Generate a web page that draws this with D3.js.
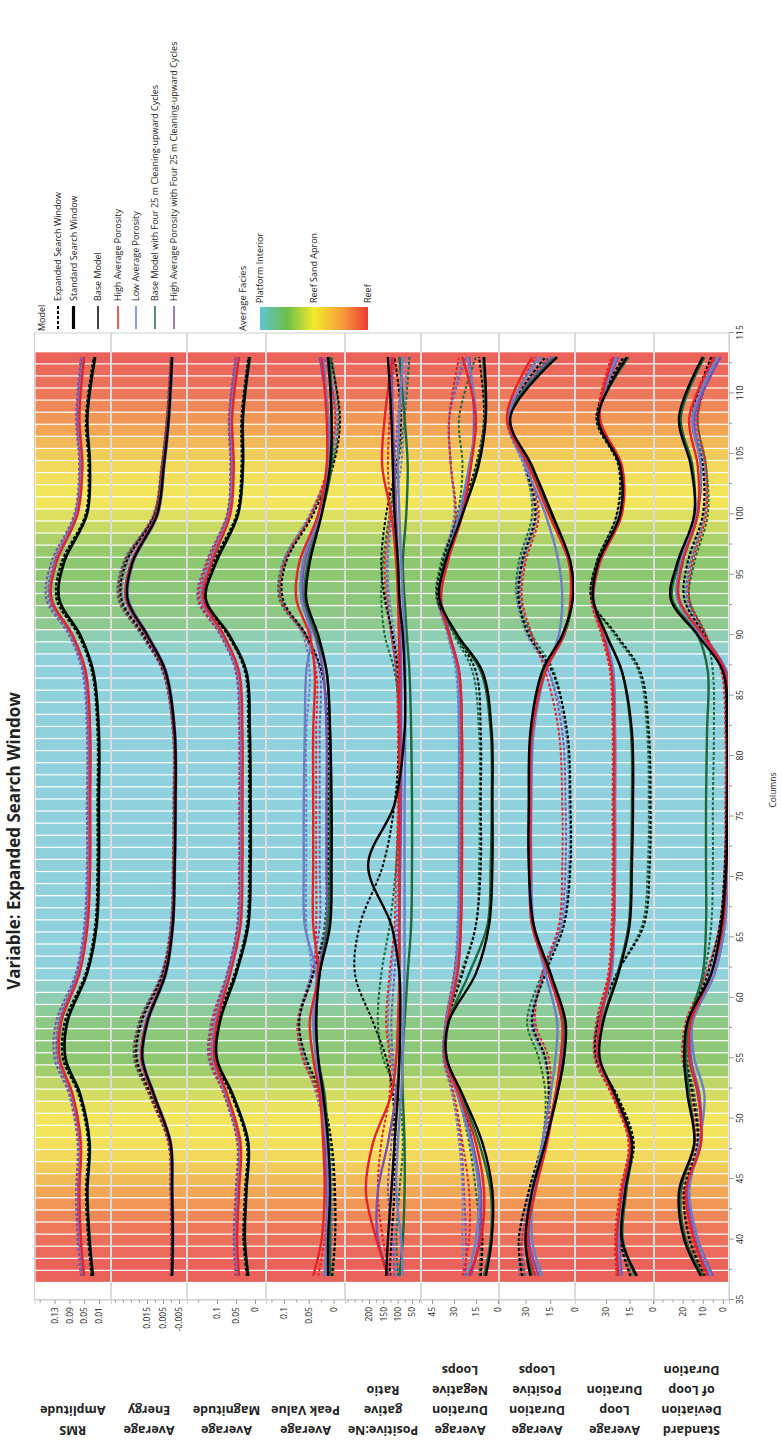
<!DOCTYPE html>
<html>
<head>
<meta charset="utf-8">
<script src="https://cdn.jsdelivr.net/npm/d3@7"></script>
<style>
  body { margin: 0; background: #fff; }
  text { font-family: "Open Sans", "Noto Sans", "DejaVu Sans", sans-serif; fill: #222; }
</style>
</head>
<body>
<svg id="chart" width="782" height="1441"></svg>
<script>
// ---- data ----
var cols = [37, 40, 44, 48, 52, 55, 58, 62, 66, 71, 76, 82, 87, 90, 93, 96, 100, 104, 108, 113];

// average facies per column 37..113 (1 = Platform Interior, 2 = Reef Sand Apron, 3 = Reef)
var faciesCols = d3.range(37, 114);
var facies = [2.95, 2.95, 2.9, 2.85, 2.8, 2.7, 2.6, 2.5,
  2.35, 2.2, 2.1, 2.05, 2.0, 2.0, 1.95, 1.85,
  1.75, 1.6, 1.5, 1.45, 1.45, 1.4, 1.3, 1.2, 1.1,
  1.0, 1.0, 1.0, 1.0, 1.0, 1.0, 1.0, 1.0, 1.0, 1.0, 1.0, 1.0, 1.0, 1.0,
  1.0, 1.0, 1.0, 1.0, 1.0, 1.0, 1.0, 1.0, 1.0, 1.0, 1.0, 1.0, 1.0,
  1.1, 1.2, 1.35, 1.4, 1.45, 1.45, 1.5, 1.5, 1.55, 1.65, 1.8, 1.9,
  2.0, 2.0, 2.05, 2.1, 2.2, 2.35, 2.5, 2.6, 2.7, 2.8, 2.85, 2.9, 2.95];

var models = ["Base Model", "High Average Porosity", "Low Average Porosity",
  "Base Model with Four 25 m Cleaning-upward Cycles",
  "High Average Porosity with Four 25 m Cleaning-upward Cycles"];
var windows = ["Expanded Search Window", "Standard Search Window"];

var panelNames = [["RMS", "Amplitude"], ["Average", "Energy"], ["Average", "Magnitude"],
  ["Average", "Peak Value"], ["Positive:Ne", "gative", "Ratio"],
  ["Average", "Duration", "Negative", "Loops"], ["Average", "Duration", "Positive", "Loops"],
  ["Average", "Loop", "Duration"], ["Standard", "Deviation", "of Loop", "Duration"]];

// each panel: [base std, base exp, high std, high exp, low std, low exp, baseCyc std, baseCyc exp, highCyc std, highCyc exp]
var rmsAmplitude = [
  [0.027,0.036,0.042,0.036,0.061,0.101,0.096,0.043,0.017,0.011,0.011,0.011,0.026,0.061,0.118,0.105,0.043,0.035,0.042,0.021],
  [0.030,0.039,0.045,0.039,0.064,0.107,0.102,0.046,0.020,0.014,0.014,0.014,0.029,0.065,0.124,0.111,0.046,0.038,0.045,0.024],
  [0.050,0.059,0.063,0.059,0.081,0.116,0.112,0.063,0.041,0.034,0.034,0.034,0.046,0.081,0.138,0.125,0.068,0.055,0.063,0.050],
  [0.055,0.064,0.068,0.064,0.086,0.121,0.117,0.068,0.046,0.039,0.039,0.039,0.051,0.086,0.143,0.130,0.073,0.060,0.068,0.055],
  [0.052,0.061,0.065,0.061,0.083,0.118,0.114,0.065,0.043,0.036,0.036,0.036,0.048,0.083,0.140,0.127,0.070,0.057,0.065,0.052],
  [0.056,0.065,0.069,0.065,0.088,0.124,0.120,0.070,0.047,0.040,0.040,0.040,0.052,0.088,0.146,0.133,0.074,0.061,0.069,0.056],
  [0.026,0.035,0.041,0.035,0.060,0.100,0.095,0.042,0.016,0.010,0.010,0.010,0.025,0.060,0.117,0.104,0.042,0.034,0.041,0.020],
  [0.031,0.040,0.046,0.040,0.066,0.108,0.103,0.047,0.021,0.015,0.015,0.015,0.030,0.066,0.125,0.112,0.047,0.039,0.046,0.025],
  [0.053,0.062,0.066,0.062,0.084,0.119,0.115,0.066,0.044,0.037,0.037,0.037,0.049,0.084,0.141,0.128,0.071,0.058,0.066,0.053],
  [0.059,0.068,0.072,0.068,0.091,0.130,0.126,0.073,0.050,0.043,0.043,0.043,0.055,0.091,0.152,0.139,0.077,0.064,0.072,0.059]
];
var avgEnergy = [
  [-0.0007,-0.0011,-0.0007,0.0003,0.0107,0.0179,0.0148,0.0034,-0.0011,-0.0023,-0.0028,-0.0023,0.0034,0.0148,0.0272,0.0241,0.0086,0.0045,0.0014,-0.0007],
  [-0.0003,-0.0006,-0.0002,0.0010,0.0125,0.0215,0.0185,0.0050,-0.0005,-0.0018,-0.0022,-0.0018,0.0045,0.0170,0.0310,0.0280,0.0100,0.0052,0.0020,-0.0003],
  [-0.0005,-0.0009,-0.0004,0.0006,0.0112,0.0185,0.0152,0.0038,-0.0008,-0.0020,-0.0025,-0.0020,0.0037,0.0152,0.0278,0.0246,0.0090,0.0048,0.0016,-0.0005],
  [0.0000,-0.0004,0.0001,0.0013,0.0130,0.0220,0.0190,0.0054,-0.0002,-0.0015,-0.0019,-0.0015,0.0048,0.0175,0.0315,0.0285,0.0104,0.0056,0.0023,0.0000],
  [-0.0010,-0.0014,-0.0010,0.0000,0.0103,0.0175,0.0144,0.0030,-0.0014,-0.0026,-0.0031,-0.0026,0.0030,0.0143,0.0266,0.0236,0.0082,0.0041,0.0011,-0.0010],
  [-0.0002,-0.0006,-0.0002,0.0009,0.0120,0.0205,0.0175,0.0045,-0.0007,-0.0019,-0.0024,-0.0019,0.0042,0.0165,0.0300,0.0270,0.0097,0.0050,0.0018,-0.0002],
  [-0.0008,-0.0012,-0.0008,0.0002,0.0105,0.0177,0.0146,0.0032,-0.0012,-0.0024,-0.0029,-0.0024,0.0032,0.0146,0.0270,0.0239,0.0084,0.0043,0.0012,-0.0008],
  [0.0001,-0.0003,0.0002,0.0015,0.0135,0.0228,0.0195,0.0056,0.0000,-0.0013,-0.0017,-0.0013,0.0050,0.0180,0.0322,0.0292,0.0106,0.0058,0.0025,0.0001],
  [-0.0004,-0.0008,-0.0003,0.0008,0.0114,0.0188,0.0156,0.0040,-0.0006,-0.0018,-0.0023,-0.0018,0.0040,0.0156,0.0282,0.0250,0.0092,0.0050,0.0018,-0.0004],
  [0.0003,-0.0001,0.0004,0.0017,0.0138,0.0232,0.0200,0.0060,0.0002,-0.0011,-0.0015,-0.0011,0.0053,0.0185,0.0330,0.0298,0.0110,0.0060,0.0027,0.0003]
];
var avgMagnitude = [
  [0.018,0.027,0.023,0.018,0.059,0.101,0.093,0.050,0.018,0.012,0.012,0.014,0.023,0.068,0.130,0.103,0.045,0.032,0.032,0.014],
  [0.021,0.030,0.026,0.021,0.062,0.107,0.099,0.053,0.021,0.015,0.015,0.017,0.026,0.071,0.136,0.109,0.048,0.035,0.035,0.017],
  [0.042,0.047,0.042,0.038,0.073,0.107,0.100,0.065,0.038,0.033,0.033,0.033,0.042,0.082,0.136,0.114,0.065,0.056,0.060,0.042],
  [0.049,0.054,0.049,0.045,0.080,0.118,0.111,0.072,0.045,0.040,0.040,0.040,0.049,0.089,0.147,0.125,0.072,0.063,0.067,0.049],
  [0.045,0.050,0.045,0.041,0.076,0.110,0.103,0.068,0.041,0.036,0.036,0.036,0.045,0.085,0.139,0.117,0.068,0.059,0.063,0.045],
  [0.048,0.053,0.048,0.044,0.079,0.115,0.108,0.071,0.044,0.039,0.039,0.039,0.048,0.088,0.145,0.122,0.071,0.062,0.066,0.048],
  [0.017,0.026,0.022,0.017,0.058,0.100,0.092,0.049,0.017,0.011,0.011,0.013,0.022,0.067,0.129,0.102,0.044,0.031,0.031,0.013],
  [0.022,0.031,0.027,0.022,0.063,0.108,0.100,0.054,0.022,0.016,0.016,0.018,0.027,0.072,0.137,0.110,0.049,0.036,0.036,0.018],
  [0.046,0.051,0.046,0.042,0.077,0.111,0.104,0.069,0.042,0.037,0.037,0.037,0.046,0.086,0.140,0.118,0.069,0.060,0.064,0.046],
  [0.051,0.056,0.051,0.047,0.082,0.122,0.115,0.074,0.047,0.042,0.042,0.042,0.051,0.091,0.151,0.129,0.074,0.065,0.069,0.051]
];
var avgPeakValue = [
  [0.011,0.011,0.007,0.011,0.021,0.031,0.035,0.028,0.007,0.004,0.004,0.007,0.014,0.031,0.055,0.048,0.024,0.007,0.004,0.011],
  [0.004,-0.003,-0.003,0.004,0.024,0.055,0.069,0.041,0.014,0.011,0.011,0.011,0.024,0.055,0.102,0.096,0.041,0.001,-0.013,0.007],
  [0.041,0.024,0.018,0.021,0.028,0.041,0.048,0.031,0.041,0.041,0.041,0.041,0.038,0.048,0.075,0.069,0.031,0.014,0.014,0.024],
  [0.031,0.018,0.011,0.014,0.031,0.062,0.072,0.041,0.035,0.035,0.035,0.035,0.035,0.058,0.106,0.099,0.045,0.011,-0.003,0.014],
  [0.018,0.014,0.011,0.014,0.028,0.035,0.041,0.035,0.058,0.060,0.060,0.058,0.055,0.045,0.065,0.062,0.028,0.011,0.011,0.021],
  [0.014,0.007,0.004,0.011,0.035,0.058,0.069,0.045,0.055,0.055,0.055,0.055,0.048,0.062,0.106,0.102,0.048,0.007,-0.006,0.011],
  [0.007,0.007,0.007,0.011,0.018,0.031,0.035,0.028,0.011,0.007,0.007,0.007,0.014,0.035,0.058,0.052,0.024,0.004,0.004,0.007],
  [0.001,-0.003,0.000,0.007,0.028,0.058,0.072,0.041,0.018,0.014,0.014,0.014,0.024,0.058,0.109,0.102,0.045,0.004,-0.010,0.004],
  [0.018,0.014,0.014,0.018,0.024,0.035,0.038,0.031,0.014,0.014,0.014,0.014,0.021,0.038,0.062,0.058,0.028,0.011,0.011,0.028],
  [0.011,0.004,0.004,0.011,0.031,0.062,0.072,0.045,0.028,0.028,0.028,0.028,0.028,0.055,0.106,0.099,0.045,0.007,-0.006,0.018]
];
var posNegRatio = [
  [140,134,122,111,99,94,91,94,122,203,111,76,76,82,94,99,111,117,122,134],
  [128,122,111,111,117,140,186,249,232,151,111,94,99,117,145,157,140,105,88,111],
  [134,174,211,186,122,105,99,94,94,94,94,94,94,96,99,105,122,154,145,117],
  [122,151,169,157,128,128,140,128,111,105,99,99,105,122,140,145,128,134,128,111],
  [82,88,105,99,88,82,80,76,76,76,76,73,73,76,82,88,94,99,94,82],
  [105,111,117,105,111,122,134,122,105,94,88,88,94,111,128,134,117,88,76,70],
  [94,82,76,76,82,84,76,65,53,50,50,53,59,68,76,82,70,65,76,94],
  [99,105,94,82,99,151,169,157,128,105,94,88,111,145,157,151,128,99,76,59],
  [128,169,169,134,105,94,94,94,94,91,88,88,88,91,94,99,105,111,117,122],
  [111,117,134,122,111,117,122,111,99,99,96,96,105,122,134,137,122,111,99,82]
];
var durNegLoops = [
  [8.3,4.3,3.8,10.6,24.2,35.0,33.7,15.1,6.1,3.8,3.8,4.3,10.6,27.6,40.0,35.9,24.2,13.3,8.3,9.5],
  [11.7,10.6,12.9,17.4,26.5,35.9,34.4,24.2,15.1,11.7,11.7,11.7,15.1,28.7,41.2,37.8,26.5,15.1,9.5,12.9],
  [19.7,11.7,9.5,15.1,26.5,35.5,34.4,27.6,25.3,24.6,24.6,24.6,26.5,33.2,38.9,34.4,24.2,18.5,15.1,24.2],
  [24.2,19.7,19.7,24.2,29.9,36.6,35.5,29.9,26.5,26.0,26.0,26.0,27.6,33.2,40.0,34.4,28.7,32.1,33.2,26.5],
  [20.8,15.1,12.9,18.5,27.6,35.5,35.0,28.7,26.9,26.5,26.5,26.5,27.6,33.2,38.9,35.5,26.5,19.7,15.1,20.8],
  [23.1,24.2,24.2,26.5,31.0,36.6,35.9,29.9,27.6,26.9,26.9,26.9,28.7,34.4,41.2,37.8,29.9,32.1,33.2,24.2],
  [9.5,5.0,5.0,12.9,25.3,35.0,33.7,19.7,7.2,5.0,4.3,5.0,11.7,28.7,40.0,36.6,24.6,14.0,8.8,10.1],
  [12.9,11.7,15.1,19.7,27.6,36.6,35.0,25.3,15.1,12.9,12.5,12.9,17.4,29.9,41.9,38.9,27.6,24.2,26.5,15.1],
  [18.5,12.9,11.7,17.4,27.6,35.9,35.0,27.6,25.3,24.6,24.6,24.6,26.5,32.8,38.9,35.0,25.3,18.5,16.3,19.7],
  [21.9,21.9,23.1,25.3,31.0,37.3,35.9,29.2,26.5,26.0,26.0,26.0,27.6,33.7,40.5,36.6,29.2,32.1,33.2,21.9]
];
var durPosLoops = [
  [27.0,30.0,26.0,17.9,10.8,6.7,5.7,14.8,25.0,28.0,28.0,27.0,19.9,7.7,1.3,2.7,13.8,26.0,39.2,10.8],
  [32.1,34.1,28.0,19.9,15.9,17.9,26.0,17.9,6.7,2.7,2.7,4.7,13.8,28.0,34.1,32.1,24.0,30.0,40.2,17.9],
  [24.0,29.0,24.0,16.9,11.8,8.8,7.7,15.9,26.0,27.0,27.0,26.0,17.9,6.7,2.7,3.7,15.9,28.0,41.2,26.0],
  [33.1,32.1,26.0,17.9,14.8,15.9,24.0,19.9,9.8,7.7,7.7,9.8,17.9,26.0,32.1,30.0,21.9,29.0,39.2,24.0],
  [19.9,26.0,25.0,19.9,14.8,11.8,10.8,17.9,25.0,26.4,26.4,25.0,17.9,9.8,7.7,9.8,17.9,30.0,40.2,21.9],
  [34.1,33.1,27.0,18.9,15.9,18.9,27.0,18.9,7.7,3.7,3.3,5.7,15.9,29.0,35.1,33.1,25.0,31.1,41.2,19.9],
  [26.0,29.0,25.0,17.9,10.8,6.7,6.7,14.8,25.0,27.6,27.6,26.4,18.9,6.7,1.7,3.3,14.8,27.0,40.2,11.8],
  [31.1,33.1,28.0,19.9,17.9,21.9,29.0,19.9,7.7,3.3,3.3,5.3,12.8,26.0,35.1,34.1,26.0,30.0,39.2,15.9],
  [21.9,28.0,25.0,17.9,11.8,7.7,7.7,15.9,26.0,27.6,27.6,26.4,18.9,6.7,1.7,2.7,14.8,27.0,40.2,13.8],
  [30.0,32.1,27.0,18.9,15.9,17.9,25.0,18.9,8.8,5.7,5.7,7.7,15.9,27.0,33.1,31.1,23.0,29.0,39.2,14.8]
];
var loopDuration = [
  [10.3,19.9,17.8,13.5,24.3,34.0,31.8,22.1,15.0,13.5,12.8,13.5,19.9,29.7,38.3,35.0,21.0,21.0,35.0,16.7],
  [14.6,21.0,18.9,12.4,23.2,36.1,35.0,23.2,5.9,2.1,1.6,2.7,8.1,23.2,39.4,36.1,23.2,22.1,36.1,18.9],
  [22.1,23.2,19.9,14.6,25.3,35.0,34.0,27.5,25.3,24.9,24.9,24.9,26.4,31.8,38.3,34.0,19.9,19.9,34.0,25.3],
  [23.2,24.3,21.0,15.6,26.4,37.2,36.1,28.6,26.4,25.8,25.8,25.8,27.5,32.9,39.4,35.0,21.0,20.6,35.0,26.4],
  [21.0,22.1,19.3,14.6,24.9,35.0,34.0,26.4,24.9,24.3,24.3,24.3,25.3,30.7,37.8,34.0,20.6,20.6,34.0,23.2],
  [22.1,22.7,20.6,15.6,26.4,37.2,36.1,27.5,24.9,24.3,24.3,24.9,26.4,32.2,39.4,35.0,22.1,21.5,35.0,24.3],
  [11.3,19.3,17.1,13.5,24.3,34.4,32.2,22.7,15.6,14.1,13.5,14.1,19.9,29.7,38.3,35.0,20.6,21.0,35.0,15.6],
  [13.5,20.6,18.4,12.4,23.6,36.6,35.0,23.2,7.0,3.3,2.7,3.8,9.2,24.3,39.4,36.1,22.7,21.5,36.1,17.8],
  [19.9,21.5,19.3,14.1,24.9,35.0,33.5,27.1,24.9,24.3,24.3,24.3,25.8,31.4,38.3,34.4,20.6,19.9,34.4,22.1],
  [21.5,22.7,19.9,15.0,25.8,36.6,35.7,27.9,25.3,24.9,24.9,24.9,26.4,32.2,39.1,35.0,21.5,21.0,35.0,23.6]
];
var sdLoopDuration = [
  [10.9,19.2,21.8,14.2,17.6,19.2,17.6,5.8,0.8,-1.7,-2.2,-2.2,0.0,12.5,25.9,22.6,14.2,15.9,21.8,10.0],
  [9.2,16.7,19.2,12.5,15.1,18.4,16.7,7.5,1.6,-0.9,-1.7,-1.7,0.0,9.2,19.2,17.6,10.0,10.0,15.1,5.8],
  [7.5,14.2,18.4,10.9,12.5,16.7,15.9,5.8,0.0,-1.7,-2.2,-2.2,-0.9,10.0,21.8,20.1,12.5,12.5,16.7,4.2],
  [8.4,15.1,20.1,13.4,15.9,20.1,18.4,8.4,1.6,-0.9,-1.2,-1.2,0.8,8.4,16.7,15.1,8.4,8.4,12.5,3.3],
  [5.8,12.5,16.7,11.7,9.2,14.2,15.1,4.2,-0.9,-2.2,-2.5,-2.5,-0.9,10.9,22.6,20.9,13.4,10.9,15.1,2.5],
  [7.5,14.2,19.2,12.5,15.1,19.2,17.6,6.7,0.8,-1.2,-1.7,-1.7,0.5,9.2,18.4,16.7,9.2,9.2,14.2,4.2],
  [10.0,18.4,20.9,14.2,16.7,18.4,16.7,10.0,8.4,8.4,8.4,7.9,7.5,12.5,25.1,21.8,14.2,15.1,20.9,9.2],
  [8.4,15.9,19.2,12.5,14.2,17.6,15.9,9.2,5.8,5.0,5.0,4.5,5.0,8.4,16.7,14.2,7.5,8.4,12.5,5.0],
  [5.0,12.5,17.6,10.9,11.7,15.9,15.1,4.2,-0.9,-2.2,-2.5,-2.5,-1.7,10.0,21.8,20.1,12.5,10.9,14.2,1.1],
  [6.7,13.4,18.4,11.7,14.2,18.4,16.7,5.8,0.5,-1.2,-1.7,-1.7,0.0,8.4,17.6,15.9,9.2,9.2,13.4,2.5]
];

var panelData = [rmsAmplitude, avgEnergy, avgMagnitude, avgPeakValue, posNegRatio,
  durNegLoops, durPosLoops, loopDuration, sdLoopDuration];

// y-axis domains and ticks per panel
var panelDomains = [[-0.022, 0.184], [-0.01, 0.0375], [-0.029, 0.179], [-0.023, 0.136],
  [18.6, 283.7], [-0.7, 52.5], [0, 46], [-0.6, 49.8], [-3, 34.2]];
var panelTicks = [[0.13, 0.09, 0.05, 0.01], [0.015, 0.005, -0.005], [0.1, 0.05, 0],
  [0.1, 0.05, 0], [200, 150, 100, 50], [45, 30, 15, 0], [30, 15, 0], [30, 15, 0], [20, 10, 0]];
var panelMinor = [[0.17], [0.035, 0.03, 0.025, 0.02, 0.01, 0, -0.01], [0.15],
  [0.125, 0.075, 0.025], [275, 250, 225, 175, 125, 75, 25], [], [], [], [30, 25, 15, 5]];

var colTicks = d3.range(35, 116, 5);
var faciesStops = [1, 1.5, 2, 2.5, 3];
var faciesLabels = ["Platform Interior", "Reef Sand Apron", "Reef"];

// ---- layout (drawn in landscape, then turned a quarter to the left) ----
var edges = [34.5, 111, 187, 266, 345, 421, 499, 575, 654, 729];
var modelColors = ["#000000", "#e3242b", "#6f7fc6", "#1d6b3a", "#7d4fae"];

var svg = d3.select('#chart');
var g = svg.append('g').attr('transform', 'translate(0,1441) rotate(-90)');

var x = d3.scaleLinear().domain([35, 115]).range([141, 1108]);

var bandColor = d3.scaleLinear().domain(faciesStops)
  .range(["#8fd2de", "#8dc76f", "#f2e55c", "#f2a656", "#ea5b5c"]);
var barColor = d3.scaleLinear().domain(faciesStops)
  .range(["#5fc5d2", "#6cbf4a", "#f4ea2c", "#f7a13c", "#ee3a35"]);

var defs = svg.append('defs');

panelData.forEach(function (series, i) {
  var top = edges[i], bot = edges[i + 1];
  var y = d3.scaleLinear().domain(panelDomains[i]).range([bot, top]);

  var clipId = 'clip' + i;
  defs.append('clipPath').attr('id', clipId)
    .append('rect')
      .attr('x', x(35)).attr('y', top + 1)
      .attr('width', x(115) - x(35)).attr('height', bot - top - 2);

  var panel = g.append('g');

  // facies background bands
  panel.selectAll('rect.band')
    .data(faciesCols)
    .enter().append('rect')
      .attr('class', 'band')
      .attr('x', function (c) { return x(c - 0.5); })
      .attr('y', top + 1)
      .attr('width', function (c) { return x(c + 0.5) - x(c - 0.5) - 1.2; })
      .attr('height', bot - top - 2)
      .attr('fill', function (c, j) { return bandColor(facies[j]); });

  // frame
  panel.append('rect')
    .attr('x', x(35)).attr('y', top)
    .attr('width', x(115) - x(35)).attr('height', bot - top)
    .attr('fill', 'none').attr('stroke', '#cfcfcf').attr('stroke-width', 1);

  var line = d3.line()
    .x(function (d, j) { return x(cols[j]); })
    .y(function (d) { return y(d); })
    .curve(d3.curveCatmullRom.alpha(0.5));

  var curves = panel.append('g').attr('clip-path', 'url(#' + clipId + ')');
  // expanded (dashed) first, then standard (solid); base model drawn last
  [1, 0].forEach(function (w) {
    [4, 3, 2, 1, 0].forEach(function (m) {
      curves.append('path')
        .attr('d', line(series[m * 2 + w]))
        .attr('fill', 'none')
        .attr('stroke', modelColors[m])
        .attr('stroke-width', w === 0 ? 2.4 : 2)
        .attr('stroke-dasharray', w === 1 ? '3,2' : null);
    });
  });

  // y axis
  var ya = panel.append('g').attr('transform', 'translate(' + x(35) + ',0)')
    .call(d3.axisLeft(y).tickValues(panelTicks[i]).tickSize(4).tickPadding(3)
      .tickFormat(function (d) { return String(d); }));
  ya.select('.domain').attr('stroke', '#cfcfcf');
  ya.selectAll('.tick line').attr('stroke', '#999');
  ya.selectAll('text').style('font-size', '8.5px').attr('fill', '#333');

  var ym = panel.append('g').attr('transform', 'translate(' + x(35) + ',0)')
    .call(d3.axisLeft(y).tickValues(panelMinor[i]).tickSize(2.5).tickFormat(''));
  ym.select('.domain').remove();
  ym.selectAll('.tick line').attr('stroke', '#999');

  // panel title (vertical)
  var t = panel.append('text')
    .attr('transform', 'translate(15.5,' + ((top + bot) / 2) + ') rotate(-90)')
    .attr('text-anchor', 'middle')
    .style('font-size', '12.5px')
    .style('font-weight', 'bold');
  panelNames[i].forEach(function (s, k) {
    t.append('tspan').attr('x', 0).attr('dy', k === 0 ? 0 : 20).text(s);
  });
});

// x axis
var xa = g.append('g').attr('transform', 'translate(0,' + edges[9] + ')')
  .call(d3.axisBottom(x).tickValues(colTicks).tickSize(5).tickPadding(3));
xa.select('.domain').attr('stroke', '#cfcfcf');
xa.selectAll('.tick line').attr('stroke', '#999');
xa.selectAll('text').style('font-size', '8.5px').attr('fill', '#333');
var xm = g.append('g').attr('transform', 'translate(0,' + edges[9] + ')')
  .call(d3.axisBottom(x).tickValues(colTicks.slice(0, -1).map(function (d) { return d + 2.5; }))
    .tickSize(3).tickFormat(''));
xm.select('.domain').remove();
xm.selectAll('.tick line').attr('stroke', '#999');

g.append('text')
  .attr('x', 651).attr('y', 776)
  .attr('text-anchor', 'middle')
  .style('font-size', '8.5px')
  .text('Columns');

// title
g.append('text')
  .attr('x', 600).attr('y', 20)
  .attr('text-anchor', 'middle')
  .style('font-size', '17px')
  .style('font-weight', 'bold')
  .text('Variable: Expanded Search Window');

// legend: model / window
var lg = g.append('g');
lg.append('text').attr('x', 1110).attr('y', 45).style('font-size', '9px').text('Model');
var legendItems = [
  {label: windows[0], color: '#000', width: 2, dash: '3,2'},
  {label: windows[1], color: '#000', width: 3.2, dash: null},
  {label: models[0], color: modelColors[0], width: 1.5, dash: null},
  {label: models[1], color: modelColors[1], width: 1.5, dash: null},
  {label: models[2], color: modelColors[2], width: 1.5, dash: null},
  {label: models[3], color: modelColors[3], width: 1.5, dash: null},
  {label: models[4], color: modelColors[4], width: 1.5, dash: null}
];
var legendY = [58, 73.5, 98, 118, 136, 155, 174];
legendItems.forEach(function (d, k) {
  lg.append('line')
    .attr('x1', 1112).attr('x2', 1135)
    .attr('y1', legendY[k]).attr('y2', legendY[k])
    .attr('stroke', d.color).attr('stroke-width', d.width)
    .attr('stroke-dasharray', d.dash);
  lg.append('text')
    .attr('x', 1140).attr('y', legendY[k] + 3)
    .style('font-size', '9px')
    .text(d.label);
});

// legend: average facies colour bar
var grad = defs.append('linearGradient').attr('id', 'faciesGrad')
  .attr('x1', 0).attr('y1', 0).attr('x2', 0).attr('y2', 1);
faciesStops.forEach(function (s) {
  grad.append('stop').attr('offset', (s - 1) / 2).attr('stop-color', barColor(s));
});
var barY = d3.scaleLinear().domain([1, 3]).range([260, 368]);
lg.append('text').attr('x', 1110).attr('y', 246).style('font-size', '9.5px').text('Average Facies');
lg.append('rect')
  .attr('x', 1111).attr('y', barY(1))
  .attr('width', 23).attr('height', barY(3) - barY(1))
  .attr('fill', 'url(#faciesGrad)');
[1, 2, 3].forEach(function (v, k) {
  lg.append('text')
    .attr('x', 1138).attr('y', barY(v) + 3)
    .style('font-size', '9px')
    .text(faciesLabels[k]);
});
</script>
</body>
</html>
